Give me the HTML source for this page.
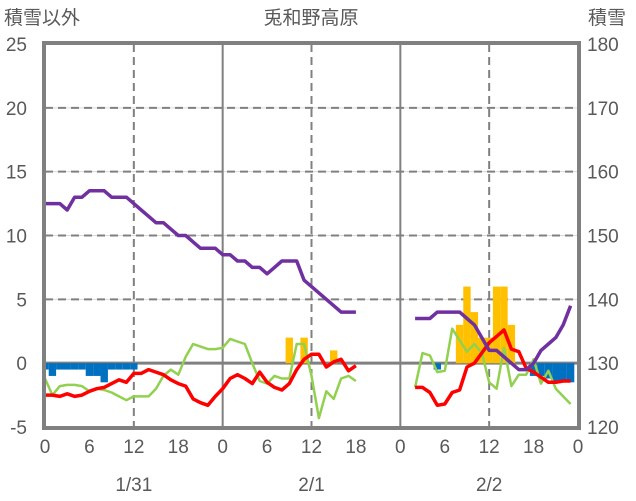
<!DOCTYPE html>
<html><head><meta charset="utf-8"><style>
body{margin:0;background:#fff;}
svg{display:block;font-family:"Liberation Sans","Noto Sans CJK JP",sans-serif;}
</style></head><body>
<svg id="chart" width="636" height="501" viewBox="0 0 636 501" xmlns="http://www.w3.org/2000/svg">
<text x="4" y="24" font-size="19" fill="#595959">積雪以外</text>
<text x="311" y="24" font-size="19" fill="#595959" text-anchor="middle">兎和野高原</text>
<text x="588" y="24" font-size="19" fill="#595959">積雪</text>
<g id="grid"></g>
<g id="bars"></g>
<g id="lines"></g>
<g id="axes"></g>
</svg>
<script>
const leftTicks=[-5,0,5,10,15,20,25];
const rightTicks=[120,130,140,150,160,170,180];
const xTickLabels=["0","6","12","18","0","6","12","18","0","6","12","18","0"];
const dayLabels=["1/31","2/1","2/2"];
// hourly series, index = hour since 1/31 0:00 (null = missing)
const N=null;
const snowDepth=[155,155,155,154,156,156,157,157,157,156,156,156,155,154,153,152,152,151,150,150,149,148,148,148,
147,147,146,146,145,145,144,145,146,146,146,143,142,141,140,139,138,138,138,N,N,N,N,N,
N,N,137,137,137,138,138,138,138,137,136,134,132,132,131,130,129,129,130,132,133,134,136,139];
const temperature=[-2.5,-2.5,-2.6,-2.4,-2.6,-2.5,-2.2,-2.0,-1.9,-1.6,-1.3,-1.5,-0.8,-0.8,-0.5,-0.7,-0.9,-1.3,-1.6,-1.8,-2.8,-3.1,-3.3,-2.6,
-2.0,-1.2,-0.9,-1.2,-1.6,-0.7,-1.5,-1.9,-2.1,-1.6,-0.5,0.3,0.7,0.7,-0.3,0.1,0.3,-0.6,-0.2,N,N,N,N,N,
N,N,-1.9,-1.9,-2.3,-3.3,-3.2,-2.3,-2.1,-0.3,0,0.8,1.6,2.1,2.6,1.1,0.9,-0.4,-0.7,-1.1,-1.5,-1.5,-1.4,-1.4];
const wind=[-1.2,-2.5,-1.8,-1.7,-1.7,-1.8,-2.2,-2.0,-2.1,-2.3,-2.6,-2.9,-2.6,-2.6,-2.6,-2.0,-1.0,-0.5,-0.9,0.5,1.5,1.3,1.1,1.1,
1.2,1.9,1.7,1.5,0,-1.4,-1.6,-1.0,-1.2,-1.2,1.5,1.5,-1.0,-4.3,-2.2,-2.8,-1.2,-1.0,-1.4,N,N,N,N,N,
N,N,-1.9,0.8,0.6,-0.7,-0.6,2.7,1.8,0.9,1.5,0.8,-1.5,-2.0,1.2,-1.8,-0.9,-0.9,0.3,-1.6,-0.6,-2.0,-2.6,-3.2];
const precipHours=[33,35,39,56,57,58,59,60,61,62,63];
const precipValues=[2,2,1,3,6,4,2,2,6,6,3];
const snowfallHours=[0,1,2,3,4,5,6,7,8,9,10,11,12,53,66,67,68,69,70,71];
const snowfallValues=[-0.5,-1,-0.5,-0.5,-0.5,-0.5,-1,-1,-1.5,-0.5,-0.5,-0.5,-0.5,-0.5,-1,-1,-1.2,-1.5,-1.5,-1.5];

const X0=45,X1=578,Y0=427,Y1=44,T=72;
const x=t=>X0+t*(X1-X0)/T;
const yL=v=>Y0-(v+5)*(Y0-Y1)/30;
const yR=v=>Y0-(v-120)*(Y0-Y1)/60;
const NS="http://www.w3.org/2000/svg";
function mk(tag,attrs,parent){const e=document.createElementNS(NS,tag);for(const k in attrs)e.setAttribute(k,attrs[k]);parent.appendChild(e);return e;}
const grid=document.getElementById('grid'),bars=document.getElementById('bars'),lines=document.getElementById('lines'),axes=document.getElementById('axes');
leftTicks.forEach(v=>{if(v===-5||v===0||v===25)return;
 const l=mk('line',{x1:X0,x2:X1,y1:yL(v),y2:yL(v),stroke:'#d9d9d9','stroke-width':1},grid);
 
 const d=mk('line',{x1:X0,x2:X1,y1:yL(v),y2:yL(v),stroke:'#808080','stroke-width':2,'stroke-dasharray':'8,5'},grid);
 });
[12,36,60].forEach(t=>{const d=mk('line',{x1:x(t),x2:x(t),y1:Y1,y2:Y0,stroke:'#808080','stroke-width':2,'stroke-dasharray':'8,5'},grid);
 });
[24,48].forEach(t=>{const d=mk('line',{x1:x(t),x2:x(t),y1:Y1,y2:Y0,stroke:'#808080','stroke-width':2},grid);
 });
const bw=(X1-X0)/T;
precipHours.forEach((h,i)=>{const v=precipValues[i];
 const r=mk('rect',{x:x(h)-bw/2,y:yL(v),width:bw,height:yL(0)-yL(v),fill:'#ffc000'},bars);
 });
snowfallHours.forEach((h,i)=>{const v=snowfallValues[i];const xa=Math.max(X0,x(h)-bw/2),xb=Math.min(X1,x(h)+bw/2);
 const r=mk('rect',{x:xa,y:yL(0),width:xb-xa,height:yL(v)-yL(0),fill:'#0070c0'},bars);
 });
const z=mk('line',{x1:X0,x2:X1,y1:yL(0),y2:yL(0),stroke:'#808080','stroke-width':3},grid);

function series(arr,yf,color,w,name){let d='',pen=false;
 arr.forEach((v,t)=>{if(v===null){pen=false;return;}d+=(pen?'L':'M')+x(t).toFixed(1)+','+yf(v).toFixed(1);pen=true;});
 const p=mk('path',{d:d,fill:'none',stroke:color,'stroke-width':w,'stroke-linejoin':'round'},lines);
 }
series(wind,yL,'#92d050',2.5,'wind-line');
series(temperature,yL,'#ff0000',3.5,'temperature-line');
series(snowDepth,yR,'#7030a0',3.5,'snow-depth-line');
const b=mk('rect',{x:X0-1,y:Y1-1,width:X1-X0+2,height:Y0-Y1+2,fill:'none',stroke:'#808080','stroke-width':4},axes);

leftTicks.forEach(v=>{const t=mk('text',{x:27,y:yL(v)+7,'font-size':19,fill:'#595959','text-anchor':'end'},axes);t.textContent=v;
 });
rightTicks.forEach(v=>{const t=mk('text',{x:587,y:yR(v)+7,'font-size':19,fill:'#595959'},axes);t.textContent=v;
 });
xTickLabels.forEach((s,i)=>{const t=mk('text',{x:x(i*6),y:453,'font-size':19,fill:'#595959','text-anchor':'middle'},axes);t.textContent=s;
 });
dayLabels.forEach((s,i)=>{const t=mk('text',{x:x(i*24+12),y:491,'font-size':19,fill:'#595959','text-anchor':'middle'},axes);t.textContent=s;
 });
</script>
</body></html>
